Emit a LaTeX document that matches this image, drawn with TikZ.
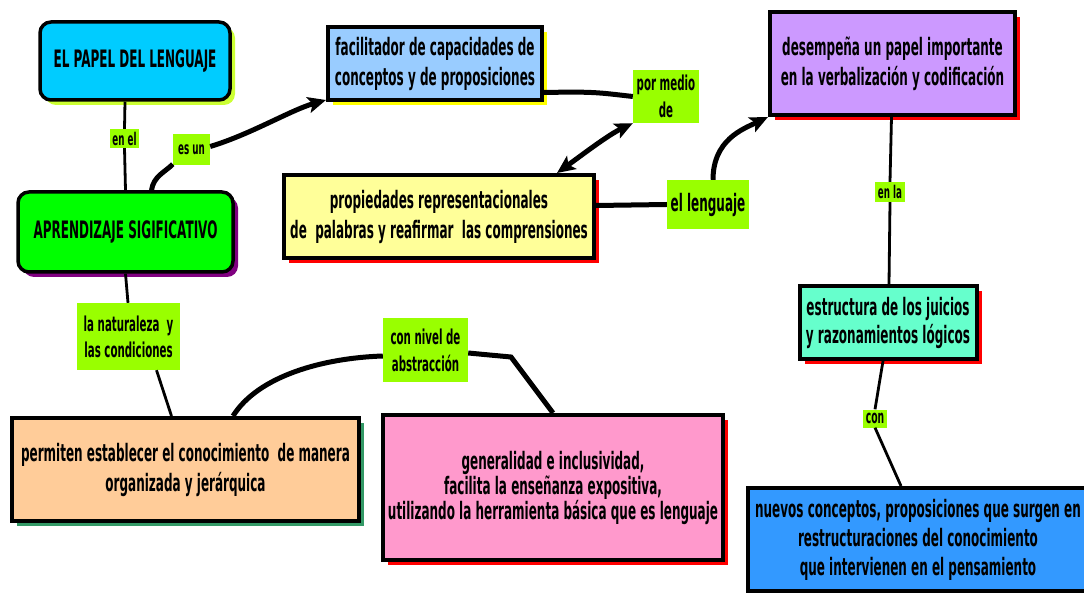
\documentclass[tikz,border=0pt]{standalone}
\usepackage{fontspec}
\setmainfont{DejaVu Sans}[FakeStretch=0.5]
\usetikzlibrary{shadows,arrows.meta}
\definecolor{cCyan}{RGB}{0,204,255}
\definecolor{cCyanSh}{RGB}{204,255,51}
\definecolor{cGreen}{RGB}{0,255,0}
\definecolor{cPurple}{RGB}{128,0,128}
\definecolor{cBlueL}{RGB}{153,204,255}
\definecolor{cYel}{RGB}{255,255,0}
\definecolor{cYelL}{RGB}{255,255,153}
\definecolor{cRed}{RGB}{255,0,0}
\definecolor{cLav}{RGB}{204,153,255}
\definecolor{cAqua}{RGB}{102,255,204}
\definecolor{cPeach}{RGB}{255,204,153}
\definecolor{cTeal}{RGB}{51,153,102}
\definecolor{cPink}{RGB}{255,153,204}
\definecolor{cBlue}{RGB}{51,153,255}
\definecolor{cLab}{RGB}{153,255,0}
\begin{document}
\begin{tikzpicture}[x=1pt,y=-1pt,
  box/.style={draw=black, line width=4pt, text=black, align=center, inner sep=0pt,
    font=\bfseries\fontsize{24}{30}\selectfont},
  rbox/.style={box, line width=3.5pt, rounded corners=11pt},
  sh/.style={drop shadow={shadow xshift=5pt, shadow yshift=-5pt, fill=#1, opacity=1}},
  lbl/.style={fill=cLab, text=black, inner sep=0pt, align=center,
    font=\bfseries\fontsize{20.5}{27}\selectfont},
  slbl/.style={lbl, font=\bfseries\fontsize{17.5}{20}\selectfont},
  thinln/.style={line width=2.8pt, draw=black},
  thickln/.style={line width=5pt, draw=black},
  arr/.style={-{Stealth[length=18pt,width=16pt,inset=4pt]}},
  darr/.style={{Stealth[length=18pt,width=16pt,inset=4pt]}-{Stealth[length=18pt,width=16pt,inset=4pt]}}
]
\useasboundingbox (0,0) rectangle (1084,593);
\fill[white] (0,0) rectangle (1084,593);

% boxes
\node[rbox, sh=cCyanSh, fill=cCyan, minimum width=190pt, minimum height=78pt] (papel) at (135,61) {EL PAPEL DEL LENGUAJE};
\node[rbox, sh=cPurple, fill=cGreen, minimum width=215pt, minimum height=80pt] (aprend) at (125.5,232) {APRENDIZAJE SIGIFICATIVO};
\node[box, sh=cYel, fill=cBlueL, minimum width=214pt, minimum height=73pt] (facil) at (435,63.5) {facilitador de capacidades de\\conceptos y de proposiciones};
\node[box, sh=cRed, fill=cYelL, minimum width=310pt, minimum height=83pt] (prop) at (439,216.5) {propiedades representacionales\\de~ palabras y reafirmar~ las comprensiones};
\node[box, sh=cRed, fill=cLav, minimum width=245pt, minimum height=103pt] (desem) at (892.5,63.5) {desempeña un papel importante\\en la verbalización y codificación};
\node[box, sh=cRed, fill=cAqua, minimum width=177pt, minimum height=73pt, font=\bfseries\fontsize{24}{28}\selectfont] (estruc) at (888,322.5) {estructura de los juicios\\y razonamientos lógicos};
\node[box, sh=cTeal, fill=cPeach, minimum width=347pt, minimum height=103pt] (permiten) at (185.5,469.5) {permiten establecer el conocimiento~ de manera\\organizada y jerárquica};
\node[box, sh=cRed, fill=cPink, minimum width=340pt, minimum height=145pt, font=\bfseries\fontsize{24}{25}\selectfont] (general) at (553,487.5) {generalidad e inclusividad,\\facilita la enseñanza expositiva,\\utilizando la herramienta básica que es lenguaje};
\node[box, sh=cRed, fill=cBlue, minimum width=340pt, minimum height=103pt, font=\bfseries\fontsize{24}{29}\selectfont] (nuevos) at (918,539.5) {nuevos conceptos, proposiciones que surgen en\\restructuraciones del conocimiento\\que intervienen en el pensamiento};

% linking labels
\node[slbl, minimum width=29pt, minimum height=19pt] (enel) at (124.5,138.5) {en el};
\node[slbl, minimum width=37pt, minimum height=31pt] (esun) at (191.5,149.5) {es un};
\node[lbl, minimum width=66pt, minimum height=53pt] (pormedio) at (666,96.5) {por medio\\de};
\node[lbl, minimum width=82pt, minimum height=49pt, font=\bfseries\fontsize{24}{27}\selectfont] (ellenguaje) at (708,204.5) {el lenguaje};
\node[slbl, minimum width=30pt, minimum height=20pt] (enla) at (890,192) {en la};
\node[lbl, minimum width=103pt, minimum height=67pt, font=\bfseries\fontsize{20.5}{26}\selectfont] (natur) at (128.5,336.5) {la naturaleza~ y\\las condiciones};
\node[lbl, minimum width=85pt, minimum height=64pt] (connivel) at (425.5,350) {con nivel de\\abstracción};
\node[slbl, minimum width=24pt, minimum height=18pt, font=\bfseries\fontsize{18.5}{20}\selectfont] (con) at (875,418.5) {con};

% connectors
\draw[thinln] ([xshift=-10pt]papel.south) -- (enel.north);
\draw[thinln] (enel.south) -- (aprend.north);
\draw[thickln] ([xshift=26pt]aprend.north) .. controls +(2,-14) and +(-8,8) .. ([yshift=1pt]esun.south west);
\draw[thickln, arr] ([yshift=3pt]esun.east) .. controls +(40,-12) and +(-35,10) .. ([yshift=2pt]facil.south west);
\draw[thickln] ([yshift=-29pt]facil.east) .. controls +(50,-1) and +(-35,-4) .. (pormedio.west);
\draw[thickln, darr] ([xshift=118pt]prop.north) .. controls +(25,-18) and +(-25,12) .. (pormedio.south west);
\draw[thickln] ([yshift=11pt]prop.east) -- (ellenguaje.west);
\draw[thickln, arr] ([xshift=5pt]ellenguaje.north) .. controls +(0,-40) and +(-25,12) .. (desem.south west);
\draw[thinln] ([xshift=-1pt]desem.south) -- (enla.north);
\draw[thinln] (enla.south) -- ([xshift=1pt]estruc.north);
\draw[thinln] ([xshift=-5pt]estruc.south) -- (con.north);
\draw[thinln] (con.south) -- ([xshift=-17pt]nuevos.north);
\draw[thinln] (aprend.south) -- ([xshift=-0.5pt]natur.north);
\draw[thinln] ([xshift=28pt]natur.south) -- ([xshift=-14pt]permiten.north);
\draw[thickln] ([xshift=47.5pt]permiten.north) .. controls +(25,-40) and +(-60,2) .. ([yshift=-6pt]connivel.west);
\coordinate (kink) at (511,357);
\draw[thickln] ([yshift=-3pt]connivel.east) -- (kink) -- (general.north);
\end{tikzpicture}
\end{document}
